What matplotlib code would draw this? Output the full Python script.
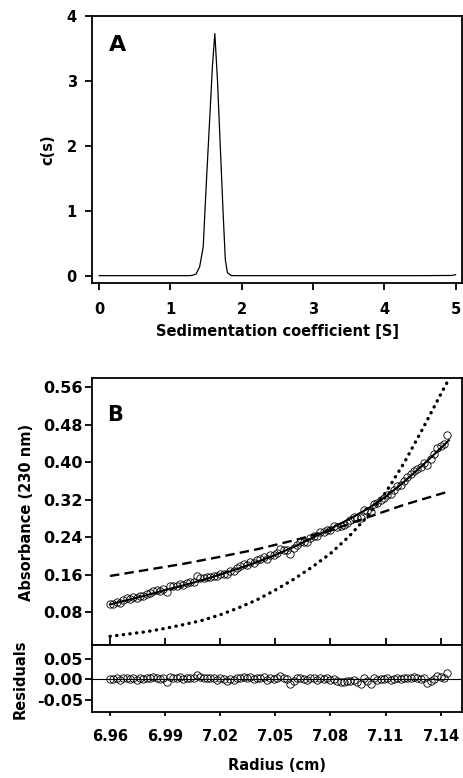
import numpy as np
import matplotlib
matplotlib.use("Agg")
import matplotlib.pyplot as plt

plt.rcParams['font.family'] = ['DejaVu Sans']
plt.rcParams['font.weight'] = 'bold'

# ---------------- panel A: c(s) distribution ----------------
sed_s = [0.0, 0.5, 1.0, 1.25, 1.30, 1.36, 1.41, 1.46, 1.50, 1.55, 1.59, 1.623,
         1.66, 1.70, 1.74, 1.77, 1.80, 1.85, 1.90, 2.5, 3.0, 3.5, 4.0, 4.5, 4.95, 5.0]
cs = [0.005, 0.005, 0.005, 0.005, 0.008, 0.03, 0.14, 0.45, 1.35, 2.40, 3.24, 3.73,
      3.01, 1.98, 0.95, 0.25, 0.05, 0.008, 0.005, 0.005, 0.005, 0.005, 0.005, 0.005, 0.008, 0.02]

# ---------------- panel B: absorbance scan + fits ----------------
radius = [6.9600, 6.9618, 6.9636, 6.9655, 6.9673, 6.9691, 6.9709, 6.9727, 6.9745, 6.9764,
          6.9782, 6.9800, 6.9818, 6.9836, 6.9855, 6.9873, 6.9891, 6.9909, 6.9927, 6.9945,
          6.9964, 6.9982, 7.0000, 7.0018, 7.0036, 7.0055, 7.0073, 7.0091, 7.0109, 7.0127,
          7.0145, 7.0164, 7.0182, 7.0200, 7.0218, 7.0236, 7.0255, 7.0273, 7.0291, 7.0309,
          7.0327, 7.0345, 7.0364, 7.0382, 7.0400, 7.0418, 7.0436, 7.0455, 7.0473, 7.0491,
          7.0509, 7.0527, 7.0545, 7.0564, 7.0582, 7.0600, 7.0618, 7.0636, 7.0655, 7.0673,
          7.0691, 7.0709, 7.0727, 7.0745, 7.0764, 7.0782, 7.0800, 7.0818, 7.0836, 7.0855,
          7.0873, 7.0891, 7.0909, 7.0927, 7.0945, 7.0964, 7.0982, 7.1000, 7.1018, 7.1036,
          7.1055, 7.1073, 7.1091, 7.1109, 7.1127, 7.1145, 7.1164, 7.1182, 7.1200, 7.1218,
          7.1236, 7.1255, 7.1273, 7.1291, 7.1309, 7.1327, 7.1345, 7.1364, 7.1382, 7.1400,
          7.1418, 7.1436]
absorb = [0.097, 0.098, 0.102, 0.100, 0.106, 0.109, 0.108, 0.113, 0.109, 0.114,
          0.115, 0.119, 0.120, 0.125, 0.126, 0.125, 0.129, 0.122, 0.136, 0.135,
          0.135, 0.140, 0.138, 0.142, 0.145, 0.145, 0.156, 0.152, 0.152, 0.155,
          0.155, 0.158, 0.156, 0.162, 0.162, 0.162, 0.168, 0.167, 0.175, 0.178,
          0.183, 0.181, 0.187, 0.185, 0.191, 0.193, 0.197, 0.194, 0.202, 0.201,
          0.206, 0.215, 0.213, 0.212, 0.204, 0.216, 0.224, 0.229, 0.230, 0.230,
          0.239, 0.243, 0.242, 0.250, 0.251, 0.256, 0.256, 0.263, 0.261, 0.263,
          0.266, 0.271, 0.276, 0.282, 0.281, 0.281, 0.299, 0.296, 0.293, 0.311,
          0.313, 0.320, 0.324, 0.330, 0.333, 0.340, 0.349, 0.352, 0.360, 0.368,
          0.374, 0.382, 0.385, 0.389, 0.399, 0.395, 0.406, 0.417, 0.431, 0.435,
          0.439, 0.459]
resid = [0.001, 0.000, 0.002, -0.001, 0.003, 0.004, 0.001, 0.004, -0.001, 0.002,
         0.001, 0.003, 0.002, 0.005, 0.004, 0.001, 0.003, -0.006, 0.006, 0.004,
         0.002, 0.005, 0.001, 0.003, 0.004, 0.002, 0.011, 0.005, 0.003, 0.004,
         0.002, 0.003, -0.001, 0.002, 0.000, -0.003, 0.001, -0.002, 0.003, 0.004,
         0.006, 0.002, 0.005, 0.000, 0.004, 0.003, 0.005, -0.001, 0.004, 0.001,
         0.003, 0.009, 0.004, 0.000, -0.011, -0.003, 0.002, 0.004, 0.001, -0.002,
         0.003, 0.004, -0.001, 0.003, 0.000, 0.002, -0.002, 0.001, -0.004, -0.006,
         -0.007, -0.005, -0.004, -0.002, -0.007, -0.011, 0.003, -0.004, -0.012, 0.002,
         -0.001, 0.001, 0.000, 0.002, -0.001, 0.001, 0.004, 0.000, 0.002, 0.004,
         0.003, 0.005, 0.002, 0.000, 0.003, -0.008, -0.003, 0.001, 0.008, 0.005,
         0.003, 0.016]

fit_r = [6.96, 6.97, 6.98, 6.99, 7.00, 7.01, 7.02, 7.03, 7.04, 7.05,
         7.06, 7.07, 7.08, 7.09, 7.10, 7.11, 7.12, 7.13, 7.14, 7.1445]
fit_best = [0.096, 0.106, 0.116, 0.127, 0.137, 0.148, 0.160, 0.173, 0.187, 0.202,
            0.219, 0.238, 0.258, 0.278, 0.300, 0.326, 0.358, 0.393, 0.430, 0.447]
fit_low = [0.028, 0.033, 0.038, 0.045, 0.053, 0.062, 0.074, 0.089, 0.106, 0.127,
           0.150, 0.176, 0.205, 0.241, 0.284, 0.335, 0.398, 0.470, 0.545, 0.578]
dash_r = [6.96, 6.98, 7.00, 7.02, 7.04, 7.06, 7.08, 7.10, 7.12, 7.143]
fit_high = [0.157, 0.170, 0.183, 0.198, 0.214, 0.233, 0.254, 0.282, 0.309, 0.336]

W, H = 463, 778
fig = plt.figure(figsize=(W / 100, H / 100), dpi=100)

def box(l, t, r, b):
    return [l / W, 1 - b / H, (r - l) / W, (b - t) / H]

lw_ax = 1.3

# ---- A ----
axA = fig.add_axes(box(92, 16, 462, 283))
axA.plot(sed_s, cs, color='black', lw=0.9)
axA.set_xlim(-0.1, 5.09)
axA.set_ylim(-0.108, 4.0)
axA.set_xticks([0, 1, 2, 3, 4, 5])
axA.set_yticks([0, 1, 2, 3, 4])
axA.tick_params(axis='x', length=5, width=lw_ax, pad=8.5, labelsize=10.5)
axA.tick_params(axis='y', length=5, width=lw_ax, pad=6, labelsize=10.5)
axA.text(0.045, 0.87, 'A', transform=axA.transAxes, fontsize=16, fontweight='bold')
fig.text(48 / W, 1 - 150 / H, 'c(s)', rotation=90, ha='center', va='center', fontsize=10.5)
fig.text(278 / W, 1 - 331 / H, 'Sedimentation coefficient [S]', ha='center', va='center', fontsize=10.5)

# ---- B main ----
axB = fig.add_axes(box(92, 378, 462, 645))
axB.plot(radius, absorb, 'o', mfc='none', mec='black', ms=5.3, mew=0.6)
axB.plot(fit_r, fit_best, color='black', lw=1.5)
axB.plot(dash_r, fit_high, color='black', lw=1.7, dashes=(4, 2.2))
axB.plot(fit_r, fit_low, color='black', lw=2.4, linestyle=(0, (0.1, 1.9)),
         dash_capstyle='round')
axB.set_xlim(6.9502, 7.1516)
axB.set_ylim(0.0095, 0.58)
rticks = [6.96, 6.99, 7.02, 7.05, 7.08, 7.11, 7.14]
axB.set_xticks(rticks)
axB.set_xticklabels([])
aticks = [0.08, 0.16, 0.24, 0.32, 0.40, 0.48, 0.56]
axB.set_yticks(aticks)
axB.set_yticklabels(['%.2f' % v for v in aticks])
axB.tick_params(axis='x', direction='inout', length=10, width=lw_ax)
axB.tick_params(axis='y', length=5, width=lw_ax, pad=1.5, labelsize=11.5)
axB.text(0.04, 0.84, 'B', transform=axB.transAxes, fontsize=15, fontweight='bold')
fig.text(27 / W, 1 - 512 / H, 'Absorbance (230 nm)', rotation=90, ha='center', va='center', fontsize=10.5)

# ---- residuals ----
axR = fig.add_axes(box(92, 645, 462, 712))
axR.plot(radius, resid, 'o', mfc='none', mec='black', ms=5.3, mew=0.6)
axR.axhline(0, color='black', lw=0.8)
axR.set_xlim(6.9502, 7.1516)
axR.set_ylim(-0.0798, 0.0837)
axR.set_xticks(rticks)
axR.set_xticklabels(['%.2f' % v for v in rticks])
axR.set_yticks([0.05, 0.0, -0.05])
axR.set_yticklabels(['0.05', '0.00', '-0.05'])
axR.tick_params(axis='x', length=3, width=lw_ax, pad=9, labelsize=10.5)
axR.tick_params(axis='y', length=5, width=lw_ax, pad=1.5, labelsize=11.5)
fig.text(20 / W, 1 - 679 / H, 'Residuals', rotation=90, ha='center', va='center', fontsize=10.5)
fig.text(277 / W, 1 - 766 / H, 'Radius (cm)', ha='center', va='center', fontsize=10.5)

for ax in (axA, axB, axR):
    for sp in ax.spines.values():
        sp.set_linewidth(lw_ax)

fig.savefig('out.png', dpi=100)
